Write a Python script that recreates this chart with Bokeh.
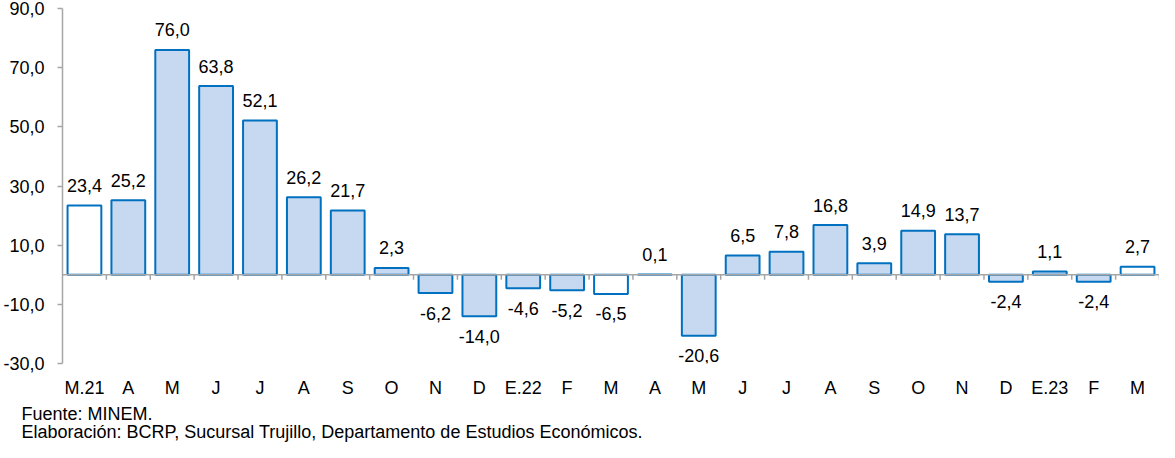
from bokeh.plotting import figure
from bokeh.models import (Range1d, LinearAxis, FixedTicker, ColumnDataSource, Title, Span)
from bokeh.embed import file_html
from bokeh.resources import INLINE

categories = ["M.21", "A", "M", "J", "J", "A", "S", "O", "N", "D", "E.22", "F", "M",
              "A", "M", "J", "J", "A", "S", "O", "N", "D", "E.23", "F", "M"]
values = [23.4, 25.2, 76.0, 63.8, 52.1, 26.2, 21.7, 2.3, -6.2, -14.0, -4.6, -5.2, -6.5,
          0.1, -20.6, 6.5, 7.8, 16.8, 3.9, 14.9, 13.7, -2.4, 1.1, -2.4, 2.7]
highlight = [True, False, False, False, False, False, False, False, False, False, False, False, True,
             False, False, False, False, False, False, False, False, False, False, False, True]
y_ticks = [-30, -10, 10, 30, 50, 70, 90]
source_note = "Fuente: MINEM."
credit_note = "Elaboración: BCRP, Sucursal Trujillo, Departamento de Estudios Económicos."

FONT = "Liberation Sans"
FS = "18px"
BLUE = "#0070C0"
FILL = "#C6D9F1"
GRAY = "#A6A6A6"
TICK_LEN = 1.7  # length of the zero-line ticks, in y units

n = len(categories)
xs = list(range(n))
fmt = lambda v: f"{v:.1f}".replace(".", ",")
src = ColumnDataSource(dict(
    x=xs, top=values,
    fill=["white" if h else FILL for h in highlight],
    label=[fmt(v) for v in values],
    off=[-20 if v >= 0 else 20 for v in values],
))
bounds = [i + 0.5 for i in range(n)]

W, H = 1159, 442
p = figure(width=W, height=H, x_range=Range1d(-0.5, n - 0.5), y_range=Range1d(-30, 90),
           output_backend="svg", toolbar_location=None, x_axis_type=None, y_axis_type=None,
           min_border_left=62, min_border_right=0, min_border_top=8, min_border_bottom=77)
p.outline_line_color = None
p.xgrid.visible = False
p.ygrid.visible = False
p.background_fill_color = "white"

# zero line with ticks at category boundaries
p.add_layout(Span(location=0, dimension="width", line_color=GRAY, line_width=1.5))
p.segment(x0=bounds, x1=bounds, y0=[0] * n, y1=[-TICK_LEN] * n,
          line_color=GRAY, line_width=1.5)

p.vbar(x="x", top="top", bottom=0, width=0.77, source=src, fill_color="fill",
       line_color=BLUE, line_width=2)
p.text(x="x", y="top", text="label", source=src, y_offset="off", text_align="center",
       text_baseline="middle", text_font_size=FS, text_color="black",
       text_font={"value": FONT})

# y axis
yax = LinearAxis(ticker=FixedTicker(ticks=y_ticks),
                 major_label_overrides={t: fmt(t) for t in y_ticks})
yax.axis_line_color = GRAY
yax.axis_line_width = 1.5
yax.major_tick_line_color = GRAY
yax.major_tick_line_width = 1.5
yax.major_tick_out = 5
yax.major_tick_in = 0
yax.minor_tick_line_color = None
yax.major_label_standoff = 13
yax.major_label_text_font = FONT
yax.major_label_text_font_size = FS
yax.major_label_text_color = "black"
p.add_layout(yax, "left")

# category labels
xax = LinearAxis(ticker=FixedTicker(ticks=xs),
                 major_label_overrides={i: c for i, c in enumerate(categories)})
xax.axis_line_color = None
xax.major_tick_line_color = None
xax.major_tick_out = 0
xax.major_tick_in = 0
xax.minor_tick_line_color = None
xax.minor_tick_out = 0
xax.minor_tick_in = 0
xax.major_label_standoff = 14
xax.major_label_text_font = FONT
xax.major_label_text_font_size = FS
xax.major_label_text_color = "black"
p.add_layout(xax, "below")

p.add_layout(Title(text=source_note + "\n" + credit_note, align="left", offset=-41,
                   standoff=2, text_font=FONT, text_font_size="18px",
                   text_font_style="normal", text_line_height=0.9,
                   text_color="black"), "below")

open("out.html", "w").write(file_html(p, INLINE))
